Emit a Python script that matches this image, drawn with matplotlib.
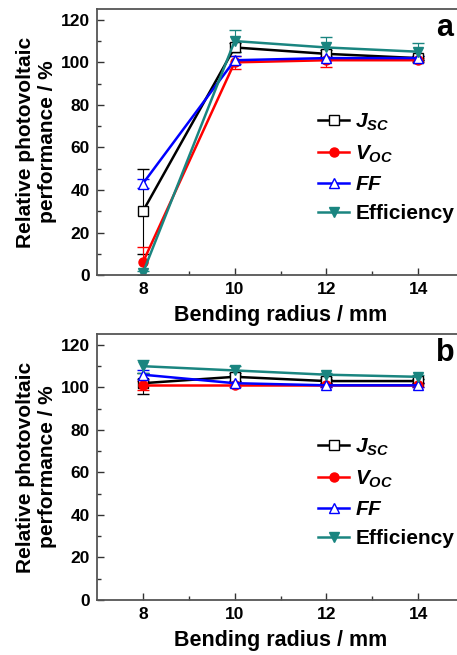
import numpy as np
import matplotlib
matplotlib.use("Agg")
import matplotlib.pyplot as plt
from matplotlib.ticker import FixedLocator

plt.rcParams['font.family'] = ['Liberation Sans', 'DejaVu Sans']
plt.rcParams['font.weight'] = 'bold'
plt.rcParams['mathtext.fontset'] = 'custom'
plt.rcParams['mathtext.it'] = 'Liberation Sans:italic:bold'
plt.rcParams['mathtext.rm'] = 'Liberation Sans:bold'
plt.rcParams['mathtext.bf'] = 'Liberation Sans:bold'

# bending radius (mm)
radius = [8, 10, 12, 14]

# panel a
jsc_a = [30, 107, 104, 102]
jsc_a_err = [20, 2, 2, 1]
voc_a = [6, 100, 101, 101]
voc_a_err = [7, 3, 3, 1]
ff_a = [43, 101, 102, 102]
ff_a_err = [2, 2, 1, 1]
eff_a = [1, 110, 107, 105]
eff_a_err = [1, 5, 5, 4]

# panel b
jsc_b = [102, 105, 103, 103]
jsc_b_err = [5, 2, 1, 1]
voc_b = [101, 101, 101, 101]
voc_b_err = [2, 1, 1, 1]
ff_b = [106, 102, 101, 101]
ff_b_err = [2, 1, 1, 1]
eff_b = [110, 108, 106, 105]
eff_b_err = [3, 2, 1, 1]

labels = [r'$J_{SC}$', r'$V_{OC}$', r'$FF$', 'Efficiency']
colors = ['black', '#ff0000', '#0000ff', '#1a8580']
markers = ['s', 'o', '^', 'v']
mfaces = ['white', '#ff0000', 'white', '#1a8580']

fig = plt.figure(figsize=(4.57, 6.55), dpi=100)
ax_a = fig.add_axes([0.2123, 0.580, 0.803, 0.406])
ax_b = fig.add_axes([0.2123, 0.084, 0.803, 0.4056])

panels = [
    (ax_a, [jsc_a, voc_a, ff_a, eff_a], [jsc_a_err, voc_a_err, ff_a_err, eff_a_err], 'a'),
    (ax_b, [jsc_b, voc_b, ff_b, eff_b], [jsc_b_err, voc_b_err, ff_b_err, eff_b_err], 'b'),
]

for ax, series, errs, tag in panels:
    for y, e, lab, c, m, mf in zip(series, errs, labels, colors, markers, mfaces):
        ax.errorbar(radius, y, yerr=e, color=c, ecolor=c, elinewidth=0.8, capsize=4,
                    capthick=0.8, marker=m, markersize=6.5, markerfacecolor=mf,
                    markeredgecolor=c, markeredgewidth=1.0, linewidth=1.8, label=lab)
    ax.set_xlim(7, 15)
    ax.set_ylim(0, 125)
    ax.set_xticks([8, 10, 12, 14])
    ax.set_yticks([0, 20, 40, 60, 80, 100, 120])
    ax.xaxis.set_minor_locator(FixedLocator([9, 11, 13]))
    ax.yaxis.set_minor_locator(FixedLocator([10, 30, 50, 70, 90, 110]))
    ax.tick_params(which='both', direction='in', labelsize=12.5, colors='#333333',
                   labelcolor='black', width=1.0)
    ax.tick_params(which='major', length=5, pad=5)
    ax.tick_params(which='minor', length=3)
    for s in ax.spines.values():
        s.set_color('#555555')
        s.set_linewidth(1.3)
    for lbl in ax.get_xticklabels() + ax.get_yticklabels():
        lbl.set_fontweight('bold')
    ax.set_xlabel('Bending radius / mm', fontsize=15.5, fontweight='bold', labelpad=6)
    ax.set_ylabel('Relative photovoltaic\nperformance / %', fontsize=15,
                  fontweight='bold', labelpad=3, linespacing=1.2)
    ax.text(0.925, 0.93, tag, transform=ax.transAxes, fontsize=22, fontweight='bold',
            ha='left', va='center')
    handles, labs = ax.get_legend_handles_labels()
    handles = [h[0] for h in handles]
    ax.legend(handles, labs, loc='upper left', bbox_to_anchor=(0.602, 0.615),
              frameon=False, fontsize=15, handlelength=1.5, handletextpad=0.3,
              labelspacing=0.5, borderaxespad=0, borderpad=0)

fig.savefig('out.png', dpi=100)
